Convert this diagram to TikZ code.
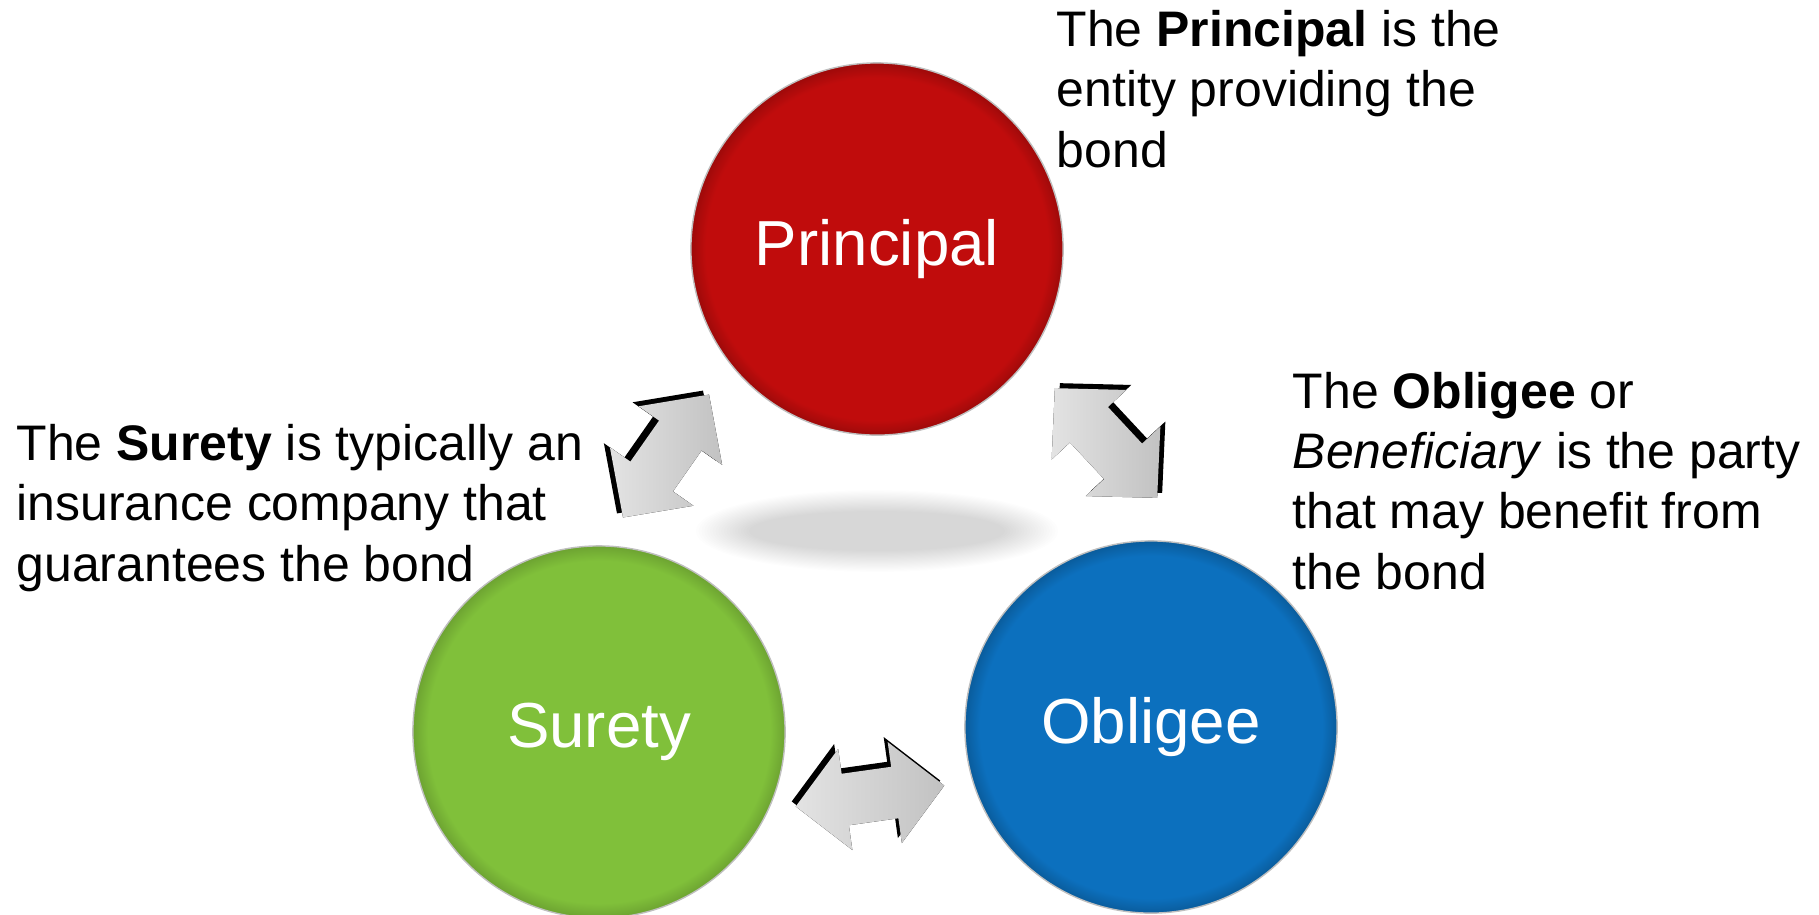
\documentclass[tikz,border=0pt]{standalone}
\usepackage{fontspec}
\setmainfont{Liberation Sans}
\usetikzlibrary{calc}

\definecolor{principalred}{RGB}{192,12,12}
\definecolor{suretygreen}{RGB}{128,192,58}
\definecolor{obligeeblue}{RGB}{12,112,190}

\pgfdeclareradialshading{principalshade}{\pgfpoint{0bp}{0bp}}{color(0bp)=(principalred); color(23bp)=(principalred); color(25bp)=(principalred!82!black); color(50bp)=(principalred!82!black)}
\pgfdeclareradialshading{suretyshade}{\pgfpoint{0bp}{0bp}}{color(0bp)=(suretygreen); color(23bp)=(suretygreen); color(25bp)=(suretygreen!85!black); color(50bp)=(suretygreen!85!black)}
\pgfdeclareradialshading{obligeeshade}{\pgfpoint{0bp}{0bp}}{color(0bp)=(obligeeblue); color(23bp)=(obligeeblue); color(25bp)=(obligeeblue!82!black); color(50bp)=(obligeeblue!82!black)}

\tikzset{
  party/.style={circle, minimum size=3.72cm, inner sep=0pt, text=white,
    font=\fontsize{18.1}{21}\selectfont, draw=black!25, line width=0.4pt},
  note/.style={anchor=base west, align=left, inner sep=0pt,
    font=\fontsize{14.2}{17.07}\selectfont},
  bondarrow/.style={left color=gray!22, right color=gray!48},
  bondedge/.style={fill=black}
}

\newcommand\arrowpath{(-\al,0) -- (-\al+\ah,\aw) -- (-\al+\ah,\as) -- (\al-\ah,\as) -- (\al-\ah,\aw) -- (\al,0) -- (\al-\ah,-\aw) -- (\al-\ah,-\as) -- (-\al+\ah,-\as) -- (-\al+\ah,-\aw) -- cycle}

\begin{document}
\begin{tikzpicture}[x=0.01cm,y=-0.01cm]
  % Constants
  \pgfmathsetmacro\al{75}
  \pgfmathsetmacro\ah{50}
  \pgfmathsetmacro\aw{51}
  \pgfmathsetmacro\as{26}
  % Boundary
  \useasboundingbox (0,0) rectangle (1819,914);
  % Floor shadow
  \foreach \k in {0,...,19}
    \fill[black, opacity=0.0095] (877,531) ellipse ({128+2.8*\k} and {20+1.1*\k});
  % Parties
  \node[party, shading=principalshade] (principal) at (877,249) {Principal};
  \node[party, shading=suretyshade] (surety) at (599,732) {Surety};
  \node[party, shading=obligeeshade] (obligee) at (1151,727) {Obligee};
  % Arrow positions
  \coordinate (sp) at (666,456);
  \coordinate (po) at (1106,443);
  \coordinate (so) at (870,796);
  % Arrows
  \begin{scope}[shift={(sp)}]
    \fill[bondedge, shift={(-6,-4)}, rotate=55] \arrowpath;
    \fill[bondarrow, rotate=55] \arrowpath;
  \end{scope}
  \begin{scope}[shift={(po)}]
    \fill[bondedge, shift={(5,-5)}, rotate=-47] \arrowpath;
    \fill[bondarrow, rotate=-47] \arrowpath;
  \end{scope}
  \begin{scope}[shift={(so)}]
    \fill[bondedge, shift={(-4,-5)}, rotate=8] \arrowpath;
    \fill[bondarrow, rotate=8] \arrowpath;
  \end{scope}
  % Notes (anchored at the last baseline)
  \node[note] (principalnote) at (1056,167) {The \textbf{Principal} is the\\entity providing the\\bond};
  \node[note] (suretynote) at (16,581) {The \textbf{Surety} is typically an\\insurance company that\\guarantees the bond};
  \node[note] (obligeenote) at (1292,589) {The \textbf{Obligee} or\\\textit{Beneficiary} is the party\\that may benefit from\\the bond};
\end{tikzpicture}
\end{document}
